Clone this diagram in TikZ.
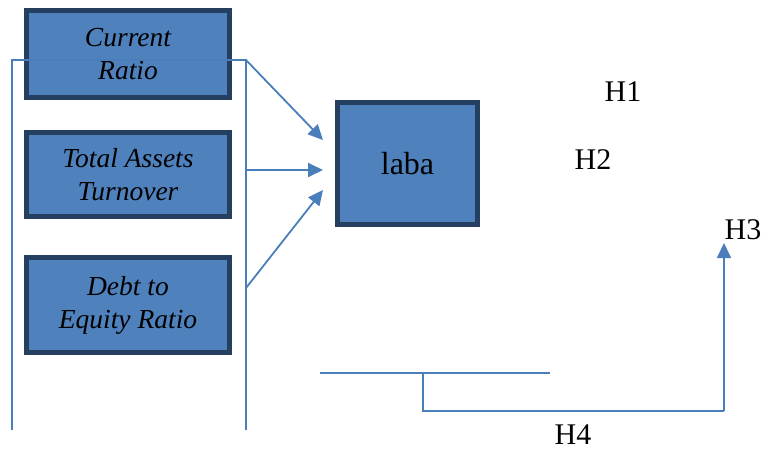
\documentclass[tikz,border=0pt]{standalone}
\usepackage{fontspec}
\setmainfont{Liberation Serif}
\usetikzlibrary{arrows.meta}
\definecolor{boxfill}{HTML}{4F81BD}
\definecolor{boxedge}{HTML}{243F60}
\definecolor{linkblue}{HTML}{4A7EBB}
\tikzset{
  varbox/.style={draw=boxedge,line width=5pt,fill=boxfill,minimum width=203pt,
    align=center,font=\fontsize{27.5}{33}\selectfont\itshape,inner sep=0pt},
  link/.style={draw=linkblue,line width=1.8pt},
  arr/.style={link,-{Triangle[length=15pt,width=14pt]}},
  hlabel/.style={font=\fontsize{30}{34}\selectfont,inner sep=0pt}
}
\begin{document}
\begin{tikzpicture}[x=1pt,y=-1pt]
\useasboundingbox (0,0) rectangle (763,451);
% variable boxes
\node[varbox,minimum height=87pt] (cr) at (128,54) {Current\\Ratio};
\node[varbox,minimum height=84pt] (tat) at (128,174.5) {Total Assets\\Turnover};
\node[varbox,minimum height=95pt] (der) at (128,305) {Debt to\\Equity Ratio};
\node[draw=boxedge,line width=5pt,fill=boxfill,minimum width=140pt,minimum height=122pt,
  font=\fontsize{32}{36}\selectfont] (laba) at (407.5,163.5) {laba};
% frame round the boxes
\coordinate (fl) at (12,430);
\coordinate (ft) at (246,60);
\coordinate (fr) at (246,430);
\draw[link] (fl) |- (ft) -- (fr);
\coordinate (a2) at (246,170);
\coordinate (a3) at (246,288);
\draw[arr] (ft) -- (323,140);
\draw[arr] (a2) -- (323,170);
\draw[arr] (a3) -- (323,190);
% hypothesis labels
\node[hlabel] (h1) at (623,92) {H1};
\node[hlabel] (h2) at (593,160) {H2};
\node[hlabel] (h3) at (743,230) {H3};
\node[hlabel] (h4) at (573,435) {H4};
% bottom bracket
\coordinate (bl) at (320,373);
\coordinate (br) at (550,373);
\coordinate (bm) at (423,373);
\coordinate (bc) at (724,411);
\draw[link] (bl) -- (br);
\draw[link] (bm) |- (bc);
\draw[arr] (bc) -- (724,243);
\end{tikzpicture}
\end{document}
